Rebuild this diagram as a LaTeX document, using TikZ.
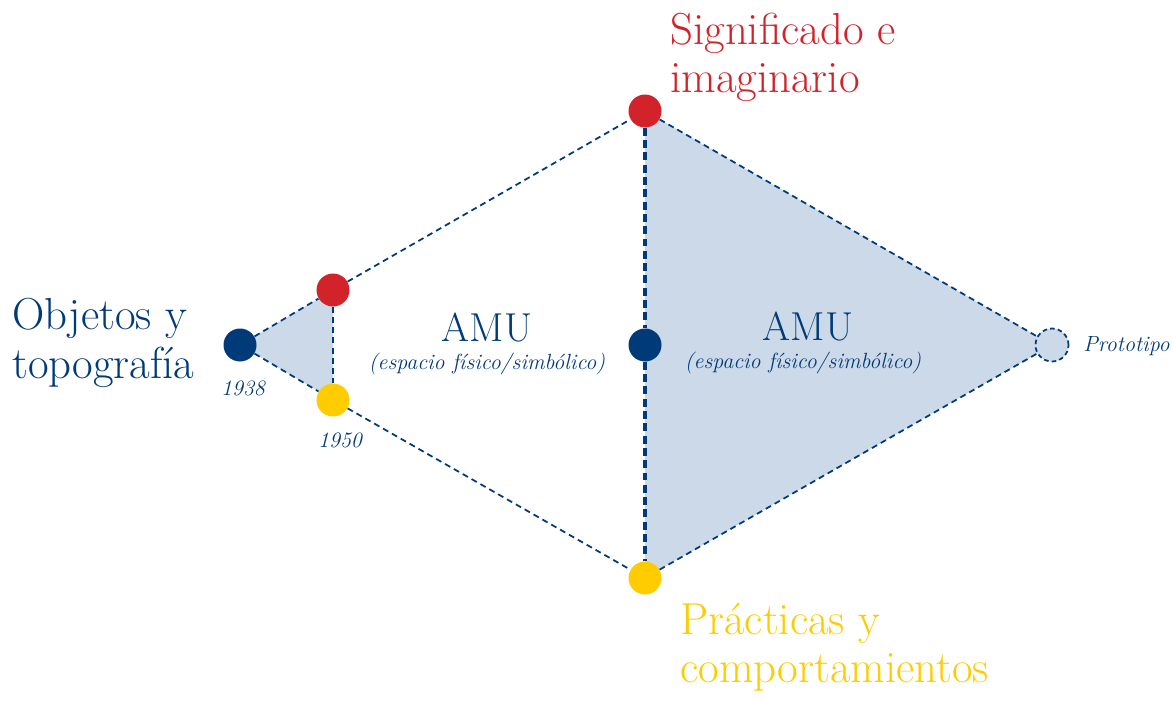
\documentclass[tikz,border=0pt]{standalone}
\usepackage{tikz}
\usetikzlibrary{positioning,backgrounds}

\definecolor{amublue}{RGB}{0,58,120}
\definecolor{amured}{RGB}{210,35,42}
\definecolor{amuyellow}{RGB}{255,204,0}
\definecolor{amufill}{RGB}{203,217,232}

\begin{document}
\begin{tikzpicture}
  [x=0.2mm,y=-0.2mm,every node/.style={inner sep=0pt,text=amublue}]

  \tikzstyle{dot} = [circle,minimum size=0.66cm]
  \tikzstyle{link} = [draw=amublue,line width=1pt,dash pattern=on 3.4pt off 2.4pt]
  \tikzstyle{axis} = [draw=amublue,line width=1.8pt,dash pattern=on 4.5pt off 2.5pt]
  \tikzstyle{big} = [font=\fontsize{25.5}{27.5}\selectfont,align=left]
  \tikzstyle{year} = [font=\fontsize{12.5}{14}\selectfont\itshape]

  \useasboundingbox (0,0) rectangle (1172,702);

  % points
  \node[dot,fill=amublue]   (obj)   at (240,345)  {};
  \node[dot,fill=amured]    (sig1)  at (333,290)  {};
  \node[dot,fill=amuyellow] (pra1)  at (333,400)  {};
  \node[dot,fill=amured]    (sig2)  at (645,111)  {};
  \node[dot,fill=amublue]   (mid)   at (645,345)  {};
  \node[dot,fill=amuyellow] (pra2)  at (645,578)  {};
  \node[dot,fill=amufill,draw=amublue,line width=1pt,
        dash pattern=on 2.6pt off 1.8pt] (proto) at (1052,345) {};

  % shaded areas
  \begin{pgfonlayer}{background}
    \fill[amufill] (obj.center) -- (sig1.center) -- (pra1.center) -- cycle;
    \fill[amufill] (sig2.center) -- (proto.center) -- (pra2.center) -- cycle;
  \end{pgfonlayer}

  \path[link]
        (obj)  edge (sig1)
        (obj)  edge (pra1)
        (sig1) edge (pra1)
        (sig1) edge (sig2)
        (pra1) edge (pra2)
        (sig2) edge (proto)
        (pra2) edge (proto);
  \path[axis]
        (sig2) edge (mid)
        (mid)  edge (pra2);

  % labels
  \node[big,anchor=west]                 (objt) at (12,343)  {Objetos y\\topografía};
  \node[big,anchor=west,text=amured]     (sigt) at (670,57)  {Significado e\\imaginario};
  \node[big,anchor=west,text=amuyellow]  (prat) at (680,647) {Prácticas y\\comportamientos};

  \node[year] (y38) at (243,388) {1938};
  \node[year] (y50) at (340,440) {1950};
  \node[year,anchor=west] (prott) at (1083,346) {Prototipo};

  \node[font=\fontsize{23}{26}\selectfont] (amu1) at (487,328) {AMU};
  \node[font=\fontsize{12.5}{14}\selectfont\itshape] (esp1) at (487,364)
        {(espacio físico/simbólico)};
  \node[font=\fontsize{23}{26}\selectfont] (amu2) at (808,327) {AMU};
  \node[font=\fontsize{12.5}{14}\selectfont\itshape] (esp2) at (803,363)
        {(espacio físico/simbólico)};
\end{tikzpicture}
\end{document}
